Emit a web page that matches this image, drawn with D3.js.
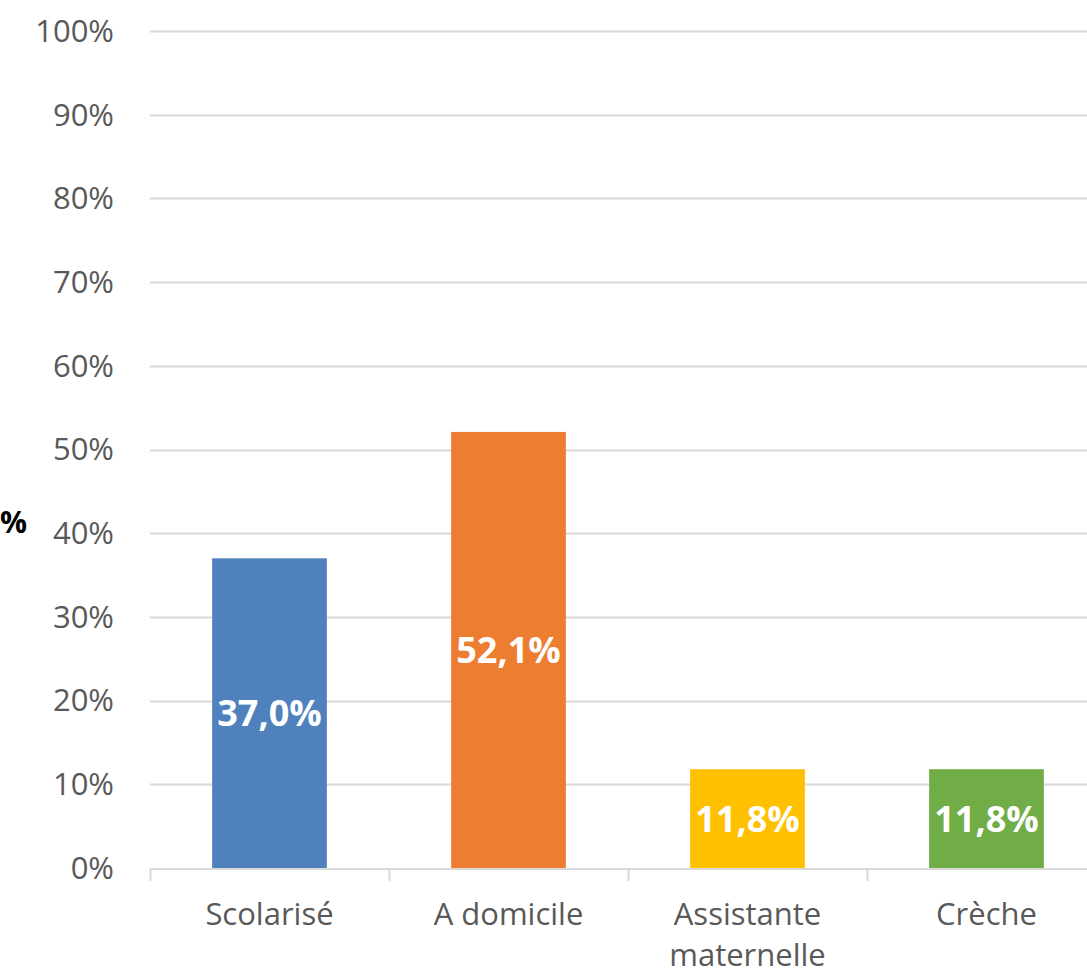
<!DOCTYPE html>
<html>
<head>
<meta charset="utf-8">
<script src="https://cdn.jsdelivr.net/npm/d3@7"></script>
<style>
  body { margin: 0; background: #fff; }
  svg { display: block; }
  text { font-family: "Open Sans", "Noto Sans", sans-serif; }
</style>
</head>
<body>
<div id="chart"></div>
<script>
"use strict";

const categories = ["Scolarisé", "A domicile", "Assistante maternelle", "Crèche"];
const values = [37.0, 52.1, 11.8, 11.8];
const labels = ["37,0%", "52,1%", "11,8%", "11,8%"];
const colors = ["#4f81bd", "#ed7d31", "#ffc000", "#70ad47"];
const yTicks = [0, 10, 20, 30, 40, 50, 60, 70, 80, 90, 100];

const width = 1087, height = 976;
const margin = { top: 31, left: 150, bottom: 108 };
const plotRight = 1106;

const svg = d3
  .select("#chart")
  .append("svg")
  .attr("width", width)
  .attr("height", height);

const x = d3
  .scaleBand()
  .domain(categories)
  .range([margin.left, plotRight])
  .paddingInner(0.52)
  .paddingOuter(0.26);

const y = d3
  .scaleLinear()
  .domain([0, 100])
  .range([height - margin.bottom, margin.top]);

// gridlines
svg
  .append("g")
  .selectAll("line")
  .data(yTicks.slice(1))
  .enter()
  .append("line")
  .attr("x1", margin.left)
  .attr("x2", plotRight)
  .attr("y1", (d) => Math.round(y(d)) + 0.5)
  .attr("y2", (d) => Math.round(y(d)) + 0.5)
  .attr("stroke", "#d9d9d9")
  .attr("stroke-width", 2);

// y tick labels
svg
  .append("g")
  .selectAll("text")
  .data(yTicks)
  .enter()
  .append("text")
  .attr("x", 114)
  .attr("y", (d) => y(d))
  .attr("dy", "0.35em")
  .attr("text-anchor", "end")
  .attr("font-size", 31)
  .attr("fill", "#595959")
  .text((d) => d + "%");

// y axis title (sits at the very left edge)
svg
  .append("text")
  .attr("x", 0)
  .attr("y", 522)
  .attr("dy", "0.35em")
  .attr("text-anchor", "start")
  .attr("font-size", 30)
  .attr("font-weight", "bold")
  .attr("fill", "#000")
  .text("%");

// bars
svg
  .append("g")
  .selectAll("rect")
  .data(values)
  .enter()
  .append("rect")
  .attr("x", (d, i) => x(categories[i]))
  .attr("y", (d) => y(d))
  .attr("width", x.bandwidth())
  .attr("height", (d) => y(0) - y(d))
  .attr("fill", (d, i) => colors[i]);

// value labels
svg
  .append("g")
  .selectAll("text")
  .data(values)
  .enter()
  .append("text")
  .attr("x", (d, i) => x(categories[i]) + x.bandwidth() / 2)
  .attr("y", (d) => (y(d) + y(0)) / 2)
  .attr("dy", "0.36em")
  .attr("text-anchor", "middle")
  .attr("font-size", 36)
  .attr("font-weight", "bold")
  .attr("fill", "#fff")
  .text((d, i) => labels[i]);

// x axis line and ticks
const step = x.step();
const half = (step * x.paddingInner()) / 2;
const axis = svg.append("g").attr("stroke", "#d9d9d9").attr("stroke-width", 2);
axis
  .append("line")
  .attr("x1", margin.left)
  .attr("x2", plotRight)
  .attr("y1", y(0) + 1)
  .attr("y2", y(0) + 1);
const bounds = categories.map((c) => x(c) - half);
axis
  .selectAll("line.tick")
  .data(bounds)
  .enter()
  .append("line")
  .attr("class", "tick")
  .attr("x1", (d) => Math.round(d) + 0.5)
  .attr("x2", (d) => Math.round(d) + 0.5)
  .attr("y1", y(0))
  .attr("y2", y(0) + 13);

// category labels
const catText = svg
  .append("g")
  .selectAll("text")
  .data(categories)
  .enter()
  .append("text")
  .attr("x", (d) => x(d) + x.bandwidth() / 2)
  .attr("y", 914)
  .attr("text-anchor", "middle")
  .attr("font-size", 31)
  .attr("fill", "#595959");

catText.each(function (d) {
  const words = d === "Assistante maternelle" ? ["Assistante", "maternelle"] : [d];
  const t = d3.select(this);
  words.forEach((w, i) => {
    t.append("tspan")
      .attr("x", x(d) + x.bandwidth() / 2)
      .attr("dy", i === 0 ? "0.35em" : "1.33em")
      .text(w);
  });
});
</script>
</body>
</html>
